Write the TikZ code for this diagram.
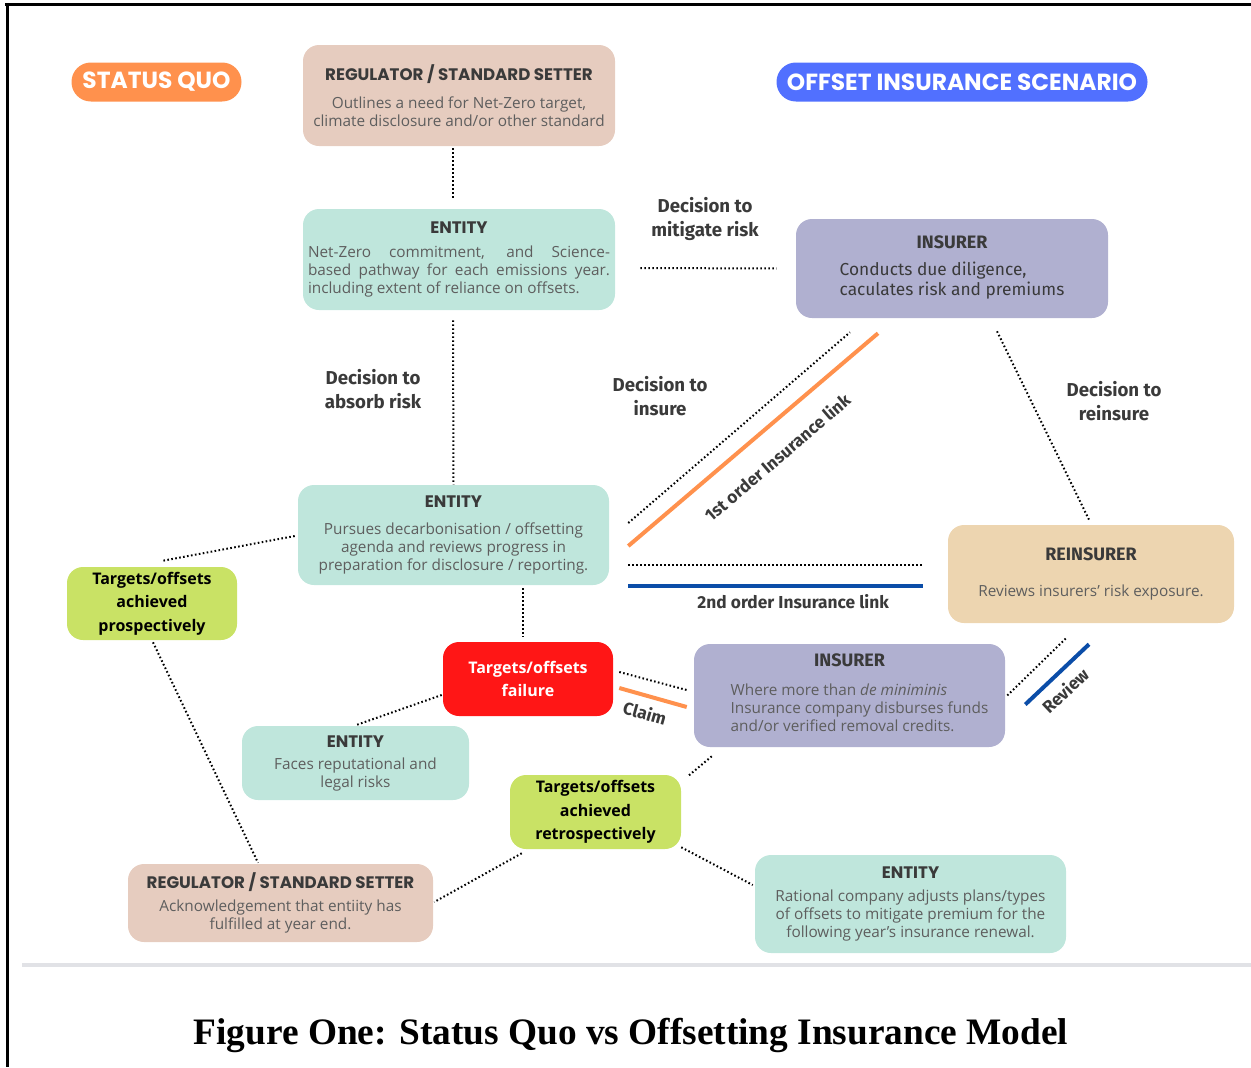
\documentclass[tikz,border=0pt]{standalone}
\usepackage{fontspec}
\usepackage{tikz}
\usetikzlibrary{calc}

\setmainfont{Open Sans}
\newfontfamily\firafont{Fira Sans}
\newfontfamily\popfont{Poppins}
\newfontfamily\capfont{Liberation Serif}

\definecolor{regpink}{HTML}{E6CCBF}
\definecolor{entmint}{HTML}{BFE6DC}
\definecolor{inslav}{HTML}{B0B0D0}
\definecolor{reintan}{HTML}{EDD5B0}
\definecolor{tgtgreen}{HTML}{C9E265}
\definecolor{failred}{HTML}{FF1616}
\definecolor{sqorange}{HTML}{FF914D}
\definecolor{oisblue}{HTML}{5170FF}
\definecolor{linkblue}{HTML}{0B4DA8}
\definecolor{ttlgray}{HTML}{3A3A3A}
\definecolor{bodygray}{HTML}{5E5E5E}
\definecolor{rulegray}{HTML}{E1E2E6}

\newcommand{\boxttl}[1]{{\popfont\bfseries\fontsize{12.5}{15}\selectfont\color{ttlgray}#1}}
\newcommand{\insttl}[1]{{\firafont\bfseries\fontsize{13.5}{16}\selectfont\color{ttlgray}#1}}

\begin{document}
\begin{tikzpicture}[
  x=0.75pt, y=-0.75pt,
  every node/.style={align=center, inner sep=0pt},
  box/.style={rectangle, rounded corners=12pt, fill=#1, text=bodygray, font=\fontsize{11.5}{13.5}\selectfont},
  pill/.style={rectangle, rounded corners=14.5pt, fill=#1, text=white, font=\popfont\bfseries\fontsize{17.5}{20}\selectfont},
  tgt/.style={rectangle, rounded corners=12pt, fill=#1, font=\bfseries\fontsize{12}{17.5}\selectfont},
  lbl/.style={text=ttlgray, font=\firafont\bfseries\fontsize{14}{18}\selectfont},
  linklbl/.style={text=ttlgray, font=\firafont\bfseries\fontsize{13}{15}\selectfont},
  dotline/.style={draw=black, line width=1.5pt, dash pattern=on 1.2pt off 1.8pt},
  link/.style={draw=#1, line width=3pt}
]
  \useasboundingbox (0,0) rectangle (1251,1067);

  % Page frame and rule
  \draw[line width=2.25pt] (5,4) -- (1251,4);
  \draw[line width=2.25pt] (7,4) -- (7,1067);
  \draw[rulegray, line width=3pt] (22,965) -- (1251,965);

  % Scenario pills
  \node[pill=sqorange, minimum width=127.5pt, minimum height=29.25pt] (sq) at (156.5,82) {STATUS QUO};
  \node[pill=oisblue, minimum width=278.25pt, minimum height=29.25pt] (ois) at (962,82) {OFFSET INSURANCE SCENARIO};

  % Status quo chain
  \node[box=regpink, minimum width=234pt, minimum height=75.75pt] (reg1) at (459,95.5) {
    \boxttl{REGULATOR / STANDARD SETTER}\\[8pt]
    Outlines a need for Net-Zero target,\\
    climate disclosure and/or other standard};

  \node[box=entmint, minimum width=234pt, minimum height=75.75pt, text width=226.5pt, align=justify] (ent1) at (459,259.5) {
    {\centering\boxttl{ENTITY}\par}\vspace{5pt}
    Net-Zero commitment, and Science-\linebreak
    based pathway for each emissions year.\linebreak
    including extent of reliance on offsets.};

  \node[box=entmint, minimum width=233.25pt, minimum height=75pt] (ent2) at (453.5,535) {
    \boxttl{ENTITY}\\[7pt]
    Pursues decarbonisation / offsetting\\
    agenda and reviews progress in\\
    preparation for disclosure / reporting.};

  % Insurance side
  \node[box=inslav, minimum width=234pt, minimum height=74.25pt] (ins1) at (952,268.5) {
    \insttl{INSURER}\\[7pt]
    {\firafont\fontsize{13}{15}\selectfont\color{ttlgray}\begin{tabular}[t]{@{}l@{}}Conducts due diligence,\\caculates risk and premiums\end{tabular}}};

  \node[box=reintan, minimum width=214.5pt, minimum height=73.5pt] (rein) at (1091,574) {
    \insttl{REINSURER}\\[14pt]
    Reviews insurers' risk exposure.};

  \node[box=inslav, minimum width=233.25pt, minimum height=77.25pt] (ins2) at (849.5,695.5) {
    \insttl{INSURER}\\[8pt]
    \hspace*{15pt}\begin{tabular}[t]{@{}l@{}}Where more than \textit{de miniminis}\\
    Insurance company disburses funds\\
    and/or verified removal credits.\end{tabular}};

  % Outcomes
  \node[tgt=tgtgreen, minimum width=127.5pt, minimum height=54.75pt] (pros) at (152,603.5) {Targets/offsets\\ achieved\\ prospectively};
  \node[tgt=failred, text=white, minimum width=127.5pt, minimum height=55.5pt] (fail) at (528,679) {Targets/offsets\\ failure};
  \node[tgt=tgtgreen, minimum width=128.25pt, minimum height=55.5pt] (retro) at (595.5,812) {Targets/offsets\\ achieved\\ retrospectively};

  \node[box=entmint, minimum width=170.25pt, minimum height=55.5pt] (ent3) at (355.5,763) {
    \boxttl{ENTITY}\\[3pt]
    Faces reputational and\\ legal risks};

  \node[box=regpink, minimum width=228.75pt, minimum height=58.5pt] (reg2) at (280.5,903) {
    \boxttl{REGULATOR / STANDARD SETTER}\\[4pt]
    Acknowledgement that entiity has\\ fulfilled at year end.};

  \node[box=entmint, minimum width=233.25pt, minimum height=73.5pt] (ent4) at (910.5,904) {
    \boxttl{ENTITY}\\[4pt]
    Rational company adjusts plans/types\\
    of offsets to mitigate premium for the\\
    following year's insurance renewal.};

  % Decision labels
  \node[lbl] (mitlbl) at (705,219) {Decision to\\ mitigate risk};
  \node[lbl] (abslbl) at (373,389) {Decision to\\ absorb risk};
  \node[lbl] (inslbl) at (660,396) {Decision to\\ insure};
  \node[lbl] (reilbl) at (1114,401) {Decision to\\ reinsure};

  % Caption
  \node[font=\capfont\bfseries\fontsize{28}{32}\selectfont] (caption) at (631,1035) {Figure One: Status Quo vs Offsetting Insurance Model};

  % Dotted connectors
  \draw[dotline] ($(reg1.south)+(-6,2)$) -- ($(ent1.north)+(-6,-9)$);
  \draw[dotline] ($(ent1.south)+(-6,10)$) -- (ent2.north);
  \draw[dotline] ($(ent1.east)+(25,8.5)$) -- ($(ins1.west)+(-19,0)$);
  \draw[dotline] ($(ent2.east)+(19,-12)$) -- ($(ins1.south)+(-102,14)$);
  \draw[dotline] ($(ins1.south)+(45,13)$) -- ($(rein.north)+(-2,-5)$);
  \draw[dotline] ($(ent2.east)+(19,30)$) -- ($(rein.west)+(-25,-9)$);
  \draw[dotline] ($(ent2.west)+(-3,1)$) -- ($(pros.north)+(11,-6)$);
  \draw[dotline] ($(ent2.south)+(69.5,3)$) -- ($(fail.north)+(-5,-5)$);
  \draw[dotline] ($(fail.east)+(6,-7)$) -- ($(ins2.west)+(-7,-5.5)$);
  \draw[dotline] ($(ins2.east)+(2,0)$) -- ($(rein.south)+(-24,14)$);
  \draw[dotline] ($(fail.west)+(-1,16)$) -- ($(ent3.north)+(1.5,-1)$);
  \draw[dotline] ($(pros.south)+(1,2)$) -- ($(reg2.north)+(-22.5,-1)$);
  \draw[dotline] ($(ins2.south west)+(18,9)$) -- ($(retro.north east)+(6,2)$);
  \draw[dotline] ($(retro.south west)+(12,4)$) -- ($(reg2.east)+(1,-1)$);
  \draw[dotline] ($(retro.south east)+(0,-2)$) -- ($(ent4.west)+(-2,-19)$);

  % Insurance links
  \draw[link=sqorange] ($(ent2.east)+(19,11)$) -- ($(ins1.south)+(-74,15)$)
    node[linklbl, sloped, pos=0.52, below=15pt] (link1) {1st order Insurance link};
  \draw[link=linkblue] ($(ent2.east)+(19,51)$) -- ($(rein.west)+(-25,12)$)
    node[linklbl, pos=0.56, below=5pt] (link2) {2nd order Insurance link};
  \draw[link=sqorange] ($(fail.east)+(6,9)$) -- ($(ins2.west)+(-7,11.5)$)
    node[linklbl, sloped, pos=0.45, below=6pt] (claim) {Claim};
  \draw[link=linkblue] ($(ins2.east)+(20,9)$) -- ($(rein.south)+(-2,21)$)
    node[linklbl, sloped, pos=0.44, below=6pt] (review) {Review};

\end{tikzpicture}
\end{document}
